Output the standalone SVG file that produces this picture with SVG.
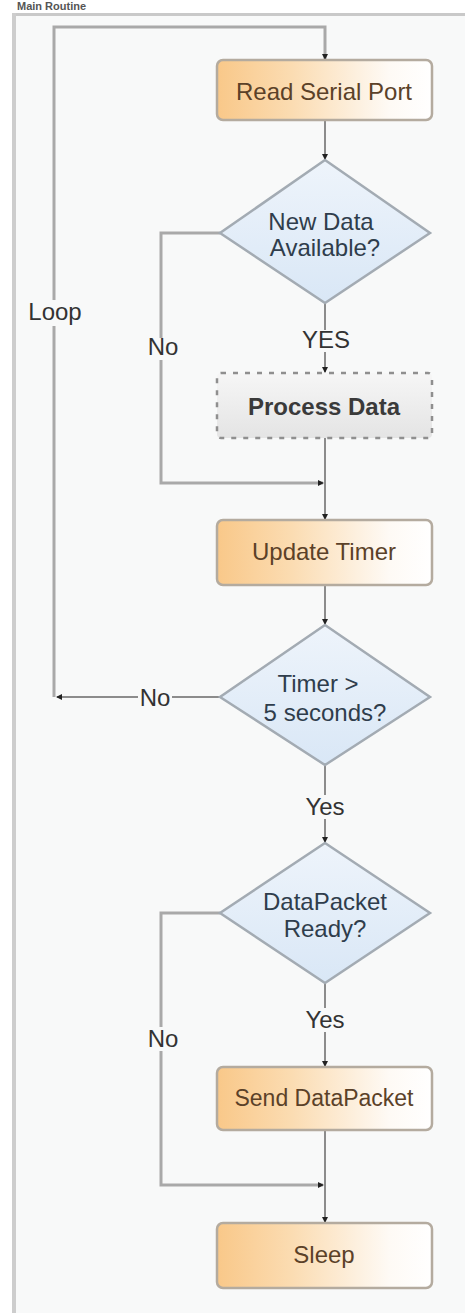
<svg xmlns="http://www.w3.org/2000/svg" width="465" height="1313" viewBox="0 0 465 1313">
<defs>
<linearGradient id="og" x1="0" y1="0" x2="1" y2="0">
<stop offset="0" stop-color="#f9c889"/>
<stop offset="0.35" stop-color="#fbdcb2"/>
<stop offset="0.8" stop-color="#fefaf5"/>
<stop offset="1" stop-color="#ffffff"/>
</linearGradient>
<linearGradient id="gg" x1="0" y1="0" x2="0" y2="1">
<stop offset="0" stop-color="#f6f6f6"/>
<stop offset="1" stop-color="#e4e4e4"/>
</linearGradient>
<linearGradient id="bg" x1="0" y1="0" x2="0" y2="1">
<stop offset="0" stop-color="#eef4fb"/>
<stop offset="1" stop-color="#d9e7f6"/>
</linearGradient>
<marker id="ah" viewBox="0 0 6 6" refX="5" refY="3" markerWidth="6" markerHeight="6" markerUnits="userSpaceOnUse" orient="auto">
<path d="M0,0 L6,3 L0,6 z" fill="#222"/>
</marker>
</defs>
<style>
.t{font-family:"Liberation Sans",Arial,sans-serif;font-size:24px;text-anchor:middle}
.box{fill:url(#og);stroke:#b4ab9f;stroke-width:2.5}
.dia{fill:url(#bg);stroke:#a3abb3;stroke-width:2.5}
.bt{fill:#5b4128}
.dt{fill:#2f3d4c}
.lbl{fill:#333}
.ln{fill:none;stroke:#8c8c8c;stroke-width:2}
.nb{fill:none;stroke:#a9a9a9;stroke-width:3}
.lb{fill:#f8f9f9}
</style>
<rect width="465" height="1313" fill="#ffffff"/>
<rect x="14" y="15" width="451" height="1298" fill="#f8f9f9"/>
<rect x="12" y="13" width="453" height="3" fill="#c9c9c9"/>
<rect x="12" y="13" width="4" height="1300" fill="#cdcdcd"/>
<text class="t" x="17" y="10" style="text-anchor:start;font-size:11px;font-weight:bold" fill="#555">Main Routine</text>

<g id="connectors">
<path class="nb" d="M54,697 V27 H325 V59" marker-end="url(#ah)"/>
<path class="ln" d="M325,120 V159" marker-end="url(#ah)"/>
<path class="ln" d="M325,303 V372" marker-end="url(#ah)"/>
<path class="nb" d="M220,233 H161 V483 H323" marker-end="url(#ah)"/>
<path class="ln" d="M325,438 V519" marker-end="url(#ah)"/>
<path class="ln" d="M325,585 V624" marker-end="url(#ah)"/>
<path class="ln" d="M220,697 H57" marker-end="url(#ah)"/>
<path class="ln" d="M325,765 V842" marker-end="url(#ah)"/>
<path class="ln" d="M325,983 V1066" marker-end="url(#ah)"/>
<path class="nb" d="M220,913 H161 V1185 H323" marker-end="url(#ah)"/>
<path class="ln" d="M325,1130 V1222" marker-end="url(#ah)"/>
<rect class="lb" x="26" y="300" width="58" height="26"/>
<text class="t lbl" x="55" y="320">Loop</text>
<rect class="lb" x="146" y="338" width="34" height="22"/>
<text class="t lbl" x="163" y="355">No</text>
<rect class="lb" x="302" y="330" width="48" height="22"/>
<text class="t lbl" x="326" y="348">YES</text>
<rect class="lb" x="138" y="686" width="34" height="22"/>
<text class="t lbl" x="155" y="706">No</text>
<rect class="lb" x="302" y="795" width="46" height="24"/>
<text class="t lbl" x="325" y="815">Yes</text>
<rect class="lb" x="302" y="1008" width="46" height="24"/>
<text class="t lbl" x="325" y="1028">Yes</text>
<rect class="lb" x="146" y="1027" width="34" height="24"/>
<text class="t lbl" x="163" y="1047">No</text>
</g>

<g id="read-serial-port">
<rect class="box" x="217" y="60" width="215" height="60" rx="6"/>
<text class="t bt" x="324" y="100">Read Serial Port</text>
</g>
<g id="new-data">
<polygon class="dia" points="325,160 430,233 325,303 220,233"/>
<text class="t dt" x="321" y="230">New Data</text>
<text class="t dt" x="325" y="256">Available?</text>
</g>
<g id="process-data">
<rect x="217" y="373" width="215" height="65" rx="4" fill="url(#gg)" stroke="#8f8f8f" stroke-width="2.5" stroke-dasharray="5,7"/>
<text class="t" x="324" y="415" fill="#3a3a3a" font-weight="bold">Process Data</text>
</g>
<g id="update-timer">
<rect class="box" x="217" y="520" width="215" height="65" rx="6"/>
<text class="t bt" x="324" y="560">Update Timer</text>
</g>
<g id="timer-check">
<polygon class="dia" points="325,625 430,697 325,765 220,697"/>
<text class="t dt" x="318" y="692">Timer &gt;</text>
<text class="t dt" x="325" y="721">5 seconds?</text>
</g>
<g id="datapacket-ready">
<polygon class="dia" points="325,843 430,913 325,983 220,913"/>
<text class="t dt" x="325" y="910">DataPacket</text>
<text class="t dt" x="325" y="937">Ready?</text>
</g>
<g id="send-datapacket">
<rect class="box" x="217" y="1067" width="215" height="63" rx="6"/>
<text class="t bt" x="324" y="1106" style="font-size:23px">Send DataPacket</text>
</g>
<g id="sleep">
<rect class="box" x="217" y="1223" width="215" height="65" rx="6"/>
<text class="t bt" x="324" y="1263">Sleep</text>
</g>
</svg>
